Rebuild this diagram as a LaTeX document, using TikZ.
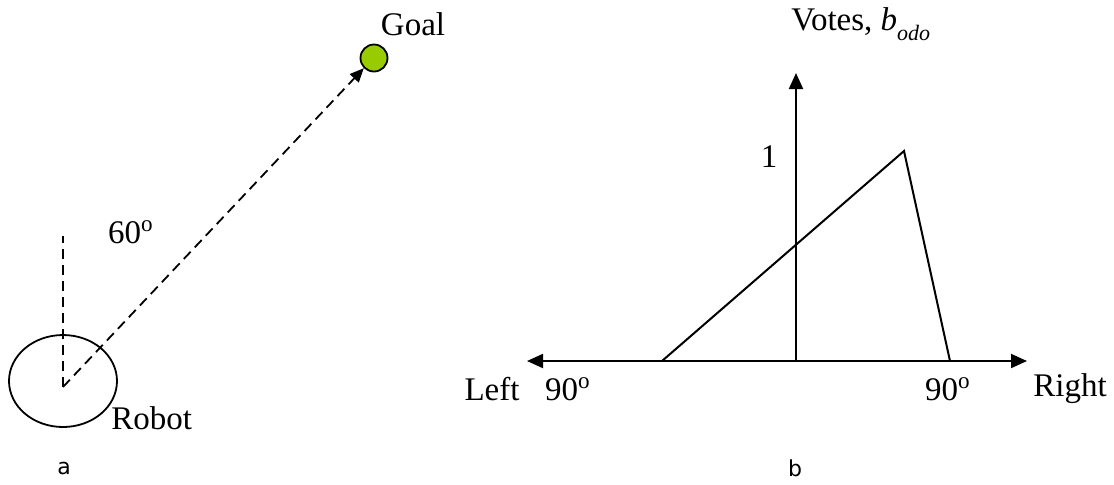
\documentclass[tikz,border=0pt]{standalone}
\usepackage{fontspec}
\setmainfont{Liberation Serif}
\newfontfamily\capfont{DejaVu Sans}
\usetikzlibrary{arrows.meta,shapes.geometric}

\tikzset{
	txt/.style={inner sep=0pt, font=\fontsize{16.5}{19}\selectfont},
	sublbl/.style={inner sep=0pt, font=\capfont\fontsize{11}{13}\selectfont},
	axis/.style={line width=1pt, {Triangle[length=8pt,width=7pt]}-{Triangle[length=8pt,width=7pt]}},
	dashline/.style={line width=0.9pt, dash pattern=on 5pt off 3pt}
}

\begin{document}
\begin{tikzpicture}[x=0.5pt, y=-0.5pt]
	\useasboundingbox (0,0) rectangle (1114,484);
	% robot and goal
	\node[draw, line width=0.9pt, ellipse, minimum width=54pt, minimum height=46pt, inner sep=0pt] (robot) at (63,381) {};
	\coordinate (rc) at (63,387);
	\coordinate (up) at (63,236);
	\node[draw, line width=0.9pt, circle, fill={rgb,255:red,153;green,204;blue,0}, minimum size=13.5pt, inner sep=0pt] (goal) at (374,58) {};
	\draw[dashline] (rc) -- (up);
	\draw[dashline, -{Triangle[length=7pt,width=6pt]}] (rc) -- (goal.225);
	\node[txt] (goallbl) at (413,24) {Goal};
	\node[txt, anchor=west] (robotlbl) at (111,418) {Robot};
	\node[txt] (ang) at (131,232) {60\textsuperscript{o}};
	\node[sublbl] (capa) at (64,468) {a};
	% votes graph
	\coordinate (o) at (796,361);
	\coordinate (l) at (527,361);
	\coordinate (r) at (1027,361);
	\coordinate (t) at (796,73);
	\draw[axis] (l) -- (r);
	\draw[line width=1pt, -{Triangle[length=8pt,width=7pt]}] (o) -- (t);
	\draw[line width=1pt] (662,361) -- (904,151) -- (950,361);
	\node[txt] (one) at (769,157) {1};
	\node[txt, anchor=west] (votes) at (791,24) {Votes, \textit{b}\raisebox{-0.7ex}{\fontsize{11}{13}\selectfont\itshape odo}};
	\node[txt] (left) at (492,389) {Left};
	\node[txt] (lft90) at (568,389) {90\textsuperscript{o}};
	\node[txt] (rgt90) at (948,389) {90\textsuperscript{o}};
	\node[txt] (right) at (1070,389) {Right};
	\node[sublbl] (capb) at (795,468) {b};
\end{tikzpicture}
\end{document}
